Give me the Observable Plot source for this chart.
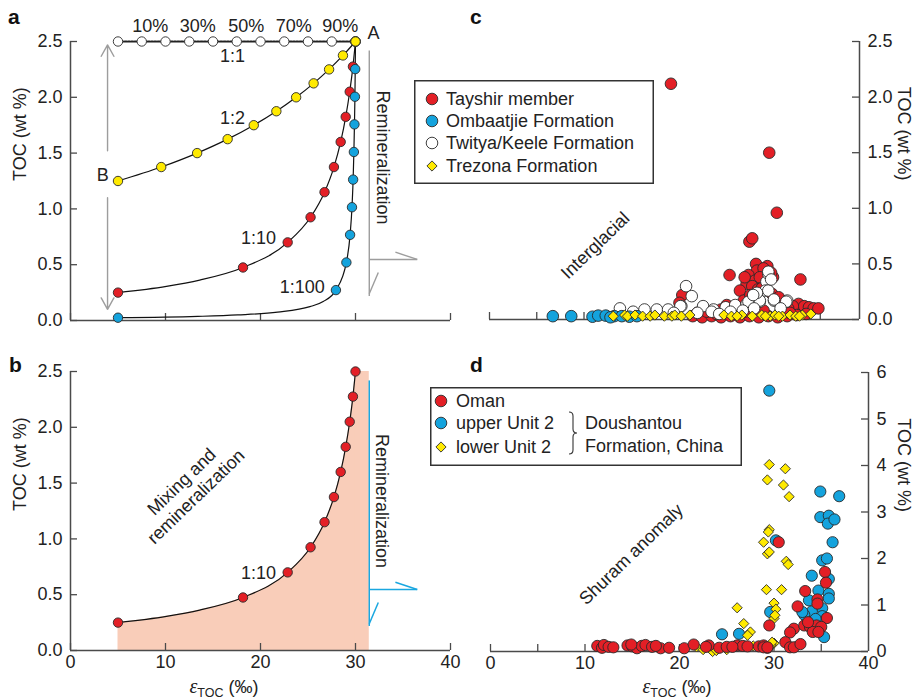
<!DOCTYPE html>
<html><head><meta charset="utf-8">
<script src="https://cdn.jsdelivr.net/npm/d3@7"></script>
<script src="https://cdn.jsdelivr.net/npm/@observablehq/plot@0.6"></script>
<style>
body{margin:0;background:#fff;font-family:"Liberation Sans",Arial,Helvetica,sans-serif;}
#root{position:relative;width:916px;height:699px;overflow:hidden;background:#fff;}
#root svg{position:absolute;overflow:visible;}
.pl{position:absolute;font-weight:bold;font-size:21px;line-height:21px;color:#111;}
.xt{position:absolute;font-size:18px;line-height:20px;color:#222;white-space:nowrap;transform:translateX(-50%);}
.xt i{font-family:"Liberation Serif","DejaVu Serif",serif;font-size:20px;}
.xt sub{font-size:12.5px;vertical-align:-4px;}
</style></head><body><div id="root"></div>
<script>
// ---------- Panel a/b: mixing model (fraction of end-member A: 0..100 %) ----------
const pctLabels = ["10%","30%","50%","70%","90%"];
const eps_1to1 = [5,7.5,10,12.5,15,17.5,20,22.5,25,27.5,30];
const toc_1to1 = [2.5,2.5,2.5,2.5,2.5,2.5,2.5,2.5,2.5,2.5,2.5];
const eps_1to2 = [5,9.55,13.33,16.54,19.29,21.67,23.75,25.59,27.22,28.68,30];
const toc_1to2 = [1.25,1.375,1.5,1.625,1.75,1.875,2.0,2.125,2.25,2.375,2.5];
const eps_1to10 = [5,18.16,22.86,25.27,26.74,27.73,28.44,28.97,29.39,29.73,30];
const toc_1to10 = [0.25,0.475,0.7,0.925,1.15,1.375,1.6,1.825,2.05,2.275,2.5];
const eps_1to100 = [5,27.94,29.04,29.43,29.63,29.75,29.83,29.89,29.94,29.97,30];
const toc_1to100 = [0.025,0.2725,0.52,0.7675,1.015,1.2625,1.51,1.7575,2.005,2.2525,2.5];
// extra vertices of the drawn curves
const curveEps_1to10 = [10.1,13.6];
const curveToc_1to10 = [0.306,0.3625];
const curveEps_1to100 = [13.4,17.6,21.8,25.2,26.6];
const curveToc_1to100 = [0.037,0.05,0.075,0.124,0.17];

// ---------- Panel c: interglacial ----------
const tayshirEps = [19.2,29.6,30.4,27.5,27.8,25.4,32.9,28.2,29.4,28.3,29.0,27.4,27.2,28.1,28.6,27.8,26.5,26.9,27.6,28.4,29.9,30.6,30.0,29.8,28.8,27.0,20.4,20.1,32.7,33.3,33.8,34.3,34.8,32.1,31.6,25.1,24.5,26.3,26.0,21.5,22.5,23.5,24.5,25.5,26.5,27.5,28.5,29.5,30.5,31.5,32.5,33.5,22.0,23.0,27.0,29.0,30.8,31.8,24.0];
const tayshirToc = [2.12,1.50,0.96,0.70,0.73,0.40,0.36,0.50,0.48,0.44,0.46,0.40,0.32,0.35,0.38,0.30,0.26,0.17,0.22,0.27,0.23,0.20,0.38,0.42,0.28,0.38,0.22,0.15,0.14,0.12,0.11,0.10,0.10,0.12,0.10,0.13,0.09,0.10,0.06,0.03,0.02,0.03,0.02,0.03,0.02,0.03,0.02,0.03,0.02,0.03,0.04,0.05,0.06,0.07,0.07,0.08,0.07,0.06,0.05];
const ombaatjieEps = [6.7,8.65,10.9,11.5,12.3,13.2,14.0,14.8,15.6,12.8];
const ombaatjieToc = [0.03,0.03,0.025,0.035,0.035,0.03,0.03,0.025,0.03,0.02];
const twityaEps = [20.8,21.4,20.3,13.8,16.4,17.7,18.9,20.2,22.6,23.7,23.5,25.0,26.0,27.2,27.4,28.6,28.6,29.3,29.5,29.5,29.2,29.5,30.1,30.1,31.5,31.4,30.8,28.3,27.9,22.0,24.3,26.8,15.2,19.5,25.5,28.0,29.8];
const twityaToc = [0.30,0.21,0.12,0.10,0.09,0.09,0.09,0.12,0.12,0.09,0.07,0.11,0.13,0.14,0.16,0.16,0.17,0.34,0.41,0.43,0.26,0.26,0.17,0.18,0.17,0.16,0.10,0.24,0.22,0.06,0.05,0.08,0.07,0.06,0.07,0.10,0.36];
const trezonaEps = [13.1,14.3,14.6,15.4,16.2,17.0,17.5,18.5,19.3,19.6,20.3,21.2,24.8,25.6,26.7,27.8,28.8,29.7,30.2,31.0,31.8,32.4,33.1,34.0,30.6,29.2,26.2,32.8];
const trezonaToc = [0.03,0.04,0.03,0.04,0.03,0.03,0.04,0.03,0.03,0.04,0.03,0.04,0.04,0.03,0.04,0.03,0.04,0.03,0.04,0.03,0.04,0.03,0.04,0.05,0.03,0.03,0.03,0.03];

// ---------- Panel d: Shuram anomaly ----------
const omanEps = [11.3,11.8,12.0,12.5,13.0,14.5,15.0,15.5,16.0,16.4,17.1,18.0,18.9,20.5,21.5,23.1,24.2,25.0,26.1,26.7,27.2,28.4,28.9,29.3,22.8,25.6,17.5,14.9,30.5,35.4,35.5,33.3,34.6,34.6,32.5,35.6,29.5,32.1,33.2,33.8,34.5,35.0,34.1,34.7,31.7,33.6,31.2,31.7,32.1,32.8,28.9,29.3];
const omanToc = [0.12,0.08,0.14,0.10,0.09,0.13,0.11,0.07,0.12,0.14,0.10,0.07,0.08,0.07,0.15,0.13,0.08,0.10,0.13,0.12,0.11,0.11,0.13,0.08,0.10,0.10,0.12,0.15,2.35,1.71,1.48,1.30,1.12,1.03,0.97,0.72,0.56,0.49,0.56,0.53,0.56,0.53,0.42,0.42,0.41,0.63,0.20,0.09,0.09,0.16,0.09,0.09];
const upperEps = [29.5,34.9,36.9,34.9,35.8,35.7,36.4,36.2,35.1,35.6,34.0,35.8,34.7,35.8,35.8,33.7,35.1,34.0,35.1,33.2,35.3,29.6,30.2,24.5,26.3,34.4,33.0];
const upperToc = [5.61,3.44,3.34,2.89,2.92,2.75,2.84,2.35,1.96,2.00,1.63,1.56,1.31,1.24,1.14,1.10,0.93,0.86,0.76,0.79,0.31,0.85,2.39,0.37,0.38,0.70,0.85];
const lowerEps = [29.5,31.2,29.3,31.0,31.6,29.5,29.4,28.9,29.3,29.5,31.3,31.5,29.2,30.8,30.0,30.2,30.0,26.1,26.8,27.5,27.2,30.0,29.7,33.2,21.8,22.5,23.5,23.9,25.0,27.8,28.5,30.1,29.8,32.2];
const lowerToc = [4.02,3.93,3.69,3.58,3.33,2.62,2.57,2.35,2.10,2.14,1.94,1.87,1.33,1.33,1.04,0.91,0.71,0.94,0.60,0.42,0.35,0.18,0.14,0.57,0.10,0.04,0.0,0.02,0.04,0.12,0.10,0.78,0.20,0.10];

// ---------- ticks ----------
const xTicksAB = [0,10,20,30,40];
const yTicksABC = [0,0.5,1,1.5,2,2.5];
const xTicksCD = [0,5,10,15,20,25,30,35,40];
const xLabelsD = [0,10,20,30,40];
const yTicksD = [0,1,2,3,4,5,6];

const legendC = ["Tayshir member","Ombaatjie Formation","Twitya/Keele Formation","Trezona Formation"];
const legendD = ["Oman","upper Unit 2","lower Unit 2"];

// ---------- styles ----------
const RED="#e31f26", BLUE="#14a3dd", YELLOW="#ffea00", WHITE="#ffffff";
const AX="#4a4a4a", GREY="#9d9d9d", PEACH="#f9cdb9";
const FONT='"Liberation Sans", Arial, Helvetica, sans-serif';
const FS = 18;
const style = {fontFamily: FONT, fontSize: FS+"px", color:"#222", background:"transparent", overflow:"visible"};

const zip = (e,t) => e.map((v,i)=>({eps:v, toc:t[i]}));
const lineData = (e,t,ce=[],ct=[]) => zip(e.concat(ce), t.concat(ct)).sort((a,b)=>a.eps-b.eps || a.toc-b.toc);

const root = document.getElementById("root");
function place(svg, left, top){ svg.style.left=left+"px"; svg.style.top=top+"px"; root.appendChild(svg); }

function axesLeft(yTicks, fmt){
  return [
    Plot.ruleX([0], {stroke:AX, strokeWidth:1.5}),
    Plot.ruleY([0], {stroke:AX, strokeWidth:1.5}),
    Plot.ruleX(xTicksAB, {x:d=>d, y1:()=>0, y2:()=>0, insetBottom:7, stroke:AX, strokeWidth:1.3}),
    Plot.ruleY(yTicks, {y:d=>d, x1:()=>0, x2:()=>0, insetRight:-7, stroke:AX, strokeWidth:1.3}),
    Plot.axisY({ticks:yTicks, tickSize:0, tickPadding:8, tickFormat:fmt, label:null, fontSize:FS}),
    Plot.text(["TOC (wt %)"], {frameAnchor:"left", rotate:-90, dx:-50, fontSize:FS, fill:"#222"})
  ];
}
const remLinks = [
  {x1:31.45,y1:2.42,x2:31.45,y2:0.22},
  {x1:31.45,y1:0.547,x2:36.5,y2:0.547},
  {x1:34.2,y1:0.612,x2:36.5,y2:0.547},
  {x1:31.45,y1:0.24,x2:32.4,y2:0.43}
];
const dot = (data, fill, r=4.7, symbol="circle") => Plot.dot(data, {x:"eps", y:"toc", r, fill, stroke:"#2a2a2a", strokeWidth:0.9, symbol});

// ---------- Panel a ----------
const pa = Plot.plot({
  width:460, height:340, marginLeft:70, marginRight:10, marginTop:41, marginBottom:20,
  x:{domain:[0,40], axis:null}, y:{domain:[0,2.5]}, style,
  marks:[
    ...axesLeft(yTicksABC, d=>d.toFixed(1)),
    Plot.arrow([{x1:3.9,y1:1.52,x2:3.9,y2:2.47},{x1:3.9,y1:1.1,x2:3.9,y2:0.1}], {x1:"x1",y1:"y1",x2:"x2",y2:"y2", stroke:GREY, strokeWidth:1.4, headLength:14, headAngle:58}),
    Plot.link(remLinks, {x1:"x1",y1:"y1",x2:"x2",y2:"y2", stroke:GREY, strokeWidth:1.4}),
    Plot.line(zip(eps_1to1,toc_1to1), {x:"eps", y:"toc", stroke:"#222", strokeWidth:1.8, strokeDasharray:"2,1.3"}),
    Plot.line(lineData(eps_1to2,toc_1to2), {x:"eps", y:"toc", stroke:"#111", strokeWidth:1.2, curve:"monotone-x"}),
    Plot.line(lineData(eps_1to10,toc_1to10,curveEps_1to10,curveToc_1to10), {x:"eps", y:"toc", stroke:"#111", strokeWidth:1.2, curve:"monotone-x"}),
    Plot.line(lineData(eps_1to100,toc_1to100,curveEps_1to100,curveToc_1to100), {x:"eps", y:"toc", stroke:"#111", strokeWidth:1.2, curve:"monotone-x"}),
    dot(zip(eps_1to1,toc_1to1), WHITE),
    dot(zip(eps_1to10,toc_1to10), RED),
    dot(zip(eps_1to100,toc_1to100), BLUE),
    dot(zip(eps_1to2,toc_1to2), YELLOW),
    Plot.text(pctLabels, {x:[8.4,13.4,18.5,23.5,28.4], y:()=>2.64, fontSize:FS, fill:"#222"}),
    Plot.text([{t:"A",x:31.9,y:2.57},{t:"B",x:3.4,y:1.3},{t:"1:1",x:17.05,y:2.37},{t:"1:2",x:17.05,y:1.81},{t:"1:10",x:19.8,y:0.74},{t:"1:100",x:24.4,y:0.3}],
      {x:"x", y:"y", text:"t", fontSize:FS, fill:"#222"}),
    Plot.text(["Remineralization"], {x:()=>32.9, y:()=>1.46, rotate:90, fontSize:FS, fill:"#222"})
  ]
});
place(pa, 0, 0);

// ---------- Panel b ----------
const pb = Plot.plot({
  width:460, height:359, marginLeft:70, marginRight:10, marginTop:31, marginBottom:49,
  x:{domain:[0,40]}, y:{domain:[0,2.5]}, style,
  marks:[
    Plot.areaY(lineData(eps_1to10,toc_1to10,curveEps_1to10,curveToc_1to10), {x:"eps", y:"toc", fill:PEACH, curve:"monotone-x"}),
    Plot.rect([{x1:29.95,x2:31.45,y1:0,y2:2.5}], {x1:"x1",x2:"x2",y1:"y1",y2:"y2", fill:PEACH}),
    ...axesLeft(yTicksABC, d=>d.toFixed(1)),
    Plot.axisX({ticks:xTicksAB, tickSize:0, tickPadding:5, label:null, fontSize:FS}),
    Plot.link(remLinks, {x1:"x1",y1:"y1",x2:"x2",y2:"y2", stroke:"#1aa7e0", strokeWidth:1.5}),
    Plot.line(lineData(eps_1to10,toc_1to10,curveEps_1to10,curveToc_1to10), {x:"eps", y:"toc", stroke:"#111", strokeWidth:1.2, curve:"monotone-x"}),
    dot(zip(eps_1to10,toc_1to10), RED),
    Plot.text(["1:10"], {x:()=>19.8, y:()=>0.69, fontSize:FS, fill:"#222"}),
    Plot.text(["Mixing and\nremineralization"], {x:()=>12.4, y:()=>1.45, rotate:-44, fontSize:FS, lineHeight:1.15, fill:"#222"}),
    Plot.text(["Remineralization"], {x:()=>32.8, y:()=>1.34, rotate:90, fontSize:FS, fill:"#222"})
  ]
});
place(pb, 0, 340);

// ---------- Panel c ----------
function axesRight(xmax, yTicks, fmt, titleDx){
  return [
    Plot.ruleX([xmax], {stroke:AX, strokeWidth:1.5}),
    Plot.ruleY([0], {stroke:AX, strokeWidth:1.5}),
    Plot.ruleX(xTicksCD.filter(d=>d<xmax), {x:d=>d, y1:()=>0, y2:()=>0, insetBottom:7, stroke:AX, strokeWidth:1.3}),
    Plot.ruleY(yTicks, {y:d=>d, x1:()=>xmax, x2:()=>xmax, insetLeft:-7, stroke:AX, strokeWidth:1.3}),
    Plot.axisY({anchor:"right", ticks:yTicks, tickSize:0, tickPadding:8, tickFormat:fmt, label:null, fontSize:FS}),
    Plot.text(["TOC (wt %)"], {frameAnchor:"right", rotate:90, dx:titleDx, fontSize:FS, fill:"#222"})
  ];
}
const pc = Plot.plot({
  width:456, height:340, marginLeft:29, marginRight:57, marginTop:41, marginBottom:21,
  x:{domain:[0,39.15], axis:null}, y:{domain:[0,2.5]}, style,
  marks:[
    ...axesRight(39.15, yTicksABC, d=>d.toFixed(1), 44),
    dot(zip(tayshirEps,tayshirToc), RED, 5.8),
    dot(zip(twityaEps,twityaToc), WHITE, 5.8),
    dot(zip(ombaatjieEps,ombaatjieToc), BLUE, 5.8),
    dot(zip(trezonaEps,trezonaToc), YELLOW, 4.6, "diamond2"),
    Plot.text(["Interglacial"], {x:()=>11.2, y:()=>0.665, rotate:-44, fontSize:FS, fill:"#222"})
  ]
});
place(pc, 460, 0);

// ---------- Panel d ----------
const pd = Plot.plot({
  width:456, height:359, marginLeft:30, marginRight:48, marginTop:32, marginBottom:48,
  x:{domain:[0,40]}, y:{domain:[0,6]}, style,
  marks:[
    ...axesRight(40, yTicksD, d=>String(d), 35),
    Plot.axisX({ticks:xLabelsD, tickSize:0, tickPadding:5, label:null, fontSize:FS}),
    dot(zip(upperEps,upperToc), BLUE, 5.6),
    dot(zip(lowerEps,lowerToc), YELLOW, 4.6, "diamond2"),
    dot(zip(omanEps,omanToc), RED, 5.6),
    Plot.text(["Shuram anomaly"], {x:()=>14.9, y:()=>2.09, rotate:-44, fontSize:FS, fill:"#222"})
  ]
});
place(pd, 460, 340);

// ---------- HTML text: panel letters, x titles ----------
[["a",8,6],["b",9,354],["c",470,6],["d",470,354]].forEach(([t,l,tp])=>{
  const d=document.createElement("div"); d.className="pl"; d.textContent=t; d.style.left=l+"px"; d.style.top=tp+"px"; root.appendChild(d);
});
[[224,676],[677,676]].forEach(([cx,tp])=>{
  const d=document.createElement("div"); d.className="xt"; d.innerHTML='<i>ε</i><sub>TOC</sub> (‰)'; d.style.left=cx+"px"; d.style.top=tp+"px"; root.appendChild(d);
});

// ---------- legends ----------
function legendBox(left, top, w, h, names, fills, symbols, symX, rowY, textX){
  const svg = d3.create("svg").attr("width", w).attr("height", h)
    .style("left", left+"px").style("top", top+"px").style("font-family", FONT).style("font-size", FS+"px");
  svg.append("rect").attr("x",0.75).attr("y",0.75).attr("width",w-1.5).attr("height",h-1.5).attr("fill","#fff").attr("stroke","#333").attr("stroke-width",1.5);
  names.forEach((n,i)=>{
    const sym = symbols[i]==="diamond2" ? d3.symbolDiamond2 : d3.symbolCircle;
    const size = symbols[i]==="diamond2" ? Math.PI*4.6*4.6 : Math.PI*5.8*5.8;
    svg.append("path").attr("d", d3.symbol(sym, size)()).attr("transform",`translate(${symX},${rowY[i]})`)
      .attr("fill", fills[i]).attr("stroke","#2a2a2a").attr("stroke-width",0.9);
    svg.append("text").attr("x", textX).attr("y", rowY[i]).attr("dy","0.35em").attr("fill","#222").text(n);
  });
  root.appendChild(svg.node());
  return svg;
}
legendBox(414, 80, 240, 104, legendC, [RED,BLUE,WHITE,YELLOW], ["circle","circle","circle","diamond2"], 18, [19,41,63,86], 32);
const lg = legendBox(430, 387, 312, 79, legendD, [RED,BLUE,YELLOW], ["circle","circle","diamond2"], 11, [14,36,60], 26);
lg.append("path").attr("d","M139,25 q4,0 4,4 v13 q0,4 4,4 q-4,0 -4,4 v13 q0,4 -4,4").attr("fill","none").attr("stroke","#333").attr("stroke-width",1.1);
lg.append("text").attr("x",155).attr("y",36).attr("dy","0.35em").attr("fill","#222").text("Doushantou");
lg.append("text").attr("x",155).attr("y",59).attr("dy","0.35em").attr("fill","#222").text("Formation, China");
</script></body></html>
